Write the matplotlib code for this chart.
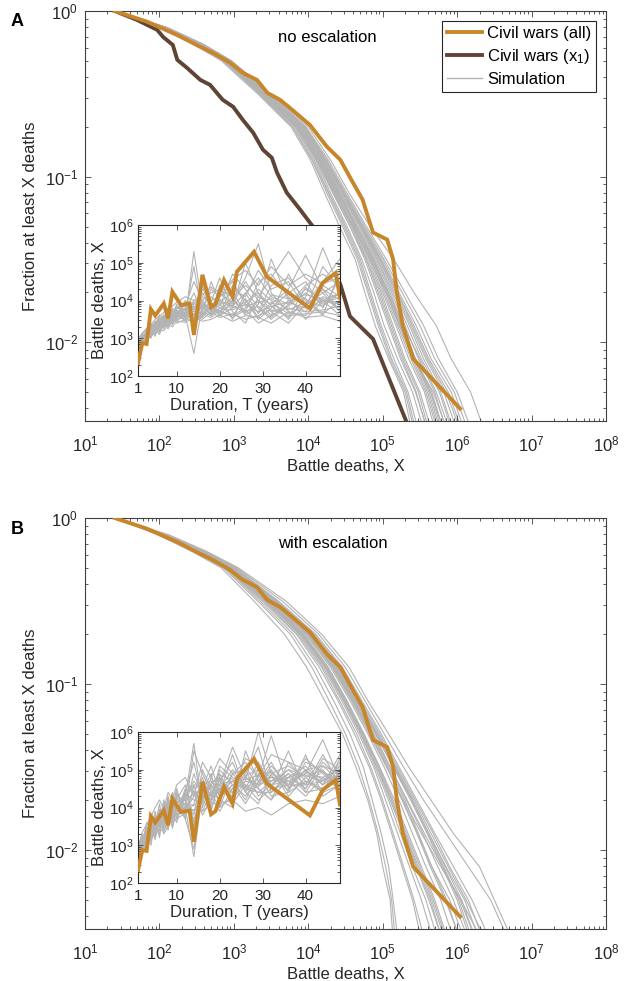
import numpy as np
import matplotlib
matplotlib.use("Agg")
import matplotlib.pyplot as plt
from matplotlib.ticker import LogLocator, NullFormatter, FixedLocator, LogFormatterSciNotation
from matplotlib.lines import Line2D

plt.rcParams['font.family'] = ['Liberation Sans', 'DejaVu Sans']
plt.rcParams['mathtext.fontset'] = 'custom'
plt.rcParams['mathtext.rm'] = 'Liberation Sans'
plt.rcParams['mathtext.it'] = 'Liberation Sans:italic'

# ---------------- data (log10 values) ----------------
# Civil wars (all): CCDF
data_all_logx = [1.40, 1.83, 2.24, 2.50, 2.72, 2.95, 3.12, 3.31, 3.45, 3.62, 3.75, 4.02,
                 4.25, 4.43, 4.60, 4.73, 4.80, 4.87, 5.06, 5.14, 5.19, 5.27, 5.41, 6.04]
data_all_logf = [0.0, -0.064, -0.145, -0.205, -0.253, -0.313, -0.373, -0.416, -0.494, -0.536,
                 -0.584, -0.687, -0.819, -0.898, -1.036, -1.139, -1.24, -1.337, -1.38, -1.50,
                 -1.70, -1.90, -2.10, -2.40]
# Civil wars (x1): CCDF
data_x1_logx = [1.40, 1.70, 1.97, 2.05, 2.18, 2.24, 2.37, 2.55, 2.68, 2.85, 2.99, 3.12,
                3.26, 3.39, 3.51, 3.58, 3.71, 3.89, 4.06, 4.43, 4.56, 4.87, 5.31]
data_x1_logf = [0.0, -0.054, -0.114, -0.157, -0.205, -0.295, -0.343, -0.416, -0.446, -0.536,
                -0.578, -0.657, -0.735, -0.837, -0.886, -0.976, -1.096, -1.199, -1.30, -1.65,
                -1.843, -1.98, -2.47]

# Simulation CCDFs: log10 X at these log10 fraction levels
ccdf_levels = [0, -0.1, -0.2, -0.3, -0.5, -0.7, -0.9, -1.1, -1.3, -1.5, -1.7, -1.9, -2.1, -2.3, -2.6]

sims_A = [
    [1.40, 1.99, 2.45, 2.83, 3.32, 3.77, 4.03, 4.22, 4.42, 4.63, 4.76, 4.90, 5.08, 5.28, 5.42],
    [1.40, 2.02, 2.50, 2.88, 3.38, 3.84, 4.10, 4.30, 4.52, 4.72, 4.88, 5.02, 5.20, 5.40, 5.60],
    [1.40, 2.05, 2.53, 2.90, 3.41, 3.88, 4.15, 4.38, 4.60, 4.82, 5.00, 5.18, 5.35, 5.56, 5.75],
    [1.40, 2.08, 2.55, 2.93, 3.44, 3.92, 4.20, 4.44, 4.68, 4.92, 5.12, 5.30, 5.48, 5.70, 5.90],
    [1.40, 2.10, 2.58, 2.96, 3.47, 3.97, 4.27, 4.52, 4.78, 5.05, 5.30, 5.55, 5.75, 6.00, 6.25],
    [1.40, 2.11, 2.59, 2.97, 3.49, 4.00, 4.30, 4.55, 4.83, 5.15, 5.42, 5.72, 5.92, 6.18, 6.42],
    [1.40, 2.03, 2.48, 2.86, 3.36, 3.82, 4.08, 4.28, 4.50, 4.70, 4.84, 4.98, 5.15, 5.34, 5.52],
    [1.40, 2.06, 2.52, 2.91, 3.40, 3.86, 4.13, 4.35, 4.58, 4.80, 4.98, 5.14, 5.30, 5.50, 5.70],
    [1.40, 2.04, 2.51, 2.89, 3.39, 3.85, 4.14, 4.40, 4.64, 4.86, 5.06, 5.25, 5.42, 5.62, 5.82],
    [1.40, 2.07, 2.54, 2.92, 3.43, 3.90, 4.18, 4.42, 4.66, 4.90, 5.10, 5.27, 5.44, 5.66, 5.86],
    [1.40, 2.09, 2.56, 2.94, 3.45, 3.94, 4.23, 4.47, 4.72, 4.97, 5.20, 5.40, 5.60, 5.85, 6.10],
    [1.40, 2.00, 2.47, 2.85, 3.35, 3.80, 4.06, 4.27, 4.48, 4.68, 4.82, 4.96, 5.12, 5.32, 5.48],
    [1.40, 2.05, 2.52, 2.90, 3.42, 3.89, 4.17, 4.41, 4.62, 4.84, 5.02, 5.20, 5.38, 5.58, 5.78],
    [1.40, 2.08, 2.55, 2.93, 3.46, 3.95, 4.24, 4.49, 4.74, 5.00, 5.22, 5.45, 5.65, 5.92, 6.15],
    [1.40, 2.06, 2.53, 2.92, 3.44, 3.91, 4.19, 4.43, 4.70, 4.95, 5.16, 5.36, 5.55, 5.78, 6.00],
    [1.40, 2.04, 2.50, 2.88, 3.40, 3.87, 4.16, 4.39, 4.63, 4.88, 5.08, 5.28, 5.50, 5.72, 5.95],
    [1.40, 2.07, 2.54, 2.91, 3.42, 3.88, 4.12, 4.36, 4.59, 4.78, 4.94, 5.10, 5.26, 5.45, 5.64],
    [1.40, 2.09, 2.57, 2.95, 3.46, 3.93, 4.22, 4.46, 4.70, 4.93, 5.14, 5.33, 5.52, 5.76, 5.98],
    [1.40, 2.03, 2.49, 2.87, 3.37, 3.83, 4.11, 4.33, 4.56, 4.76, 4.92, 5.08, 5.24, 5.44, 5.65],
    [1.40, 2.10, 2.58, 2.96, 3.48, 3.96, 4.25, 4.50, 4.76, 5.02, 5.26, 5.50, 5.70, 5.96, 6.20],
    [1.40, 2.01, 2.48, 2.86, 3.34, 3.79, 4.05, 4.25, 4.46, 4.66, 4.80, 4.94, 5.10, 5.30, 5.46],
    [1.40, 2.04, 2.51, 2.89, 3.38, 3.85, 4.12, 4.34, 4.56, 4.78, 4.96, 5.12, 5.28, 5.48, 5.66],
    [1.40, 2.06, 2.53, 2.91, 3.41, 3.88, 4.16, 4.40, 4.64, 4.87, 5.07, 5.26, 5.44, 5.64, 5.84],
    [1.40, 2.08, 2.56, 2.94, 3.45, 3.93, 4.21, 4.46, 4.71, 4.96, 5.18, 5.38, 5.58, 5.82, 6.05],
    [1.40, 2.05, 2.52, 2.90, 3.41, 3.87, 4.14, 4.37, 4.60, 4.83, 5.04, 5.22, 5.40, 5.60, 5.80],
    [1.40, 2.07, 2.55, 2.93, 3.44, 3.91, 4.18, 4.41, 4.65, 4.88, 5.07, 5.24, 5.42, 5.64, 5.88],
    [1.40, 2.03, 2.50, 2.88, 3.39, 3.86, 4.13, 4.37, 4.61, 4.85, 5.05, 5.23, 5.42, 5.68, 5.92],
    [1.40, 2.09, 2.57, 2.95, 3.47, 3.95, 4.24, 4.48, 4.73, 4.98, 5.20, 5.42, 5.62, 5.88, 6.12],
]

sims_B = [
    [1.40, 1.97, 2.43, 2.83, 3.27, 3.68, 3.98, 4.22, 4.46, 4.64, 4.80, 4.92, 5.00, 5.10, 5.15],
    [1.40, 2.00, 2.47, 2.88, 3.35, 3.80, 4.10, 4.34, 4.56, 4.74, 4.86, 4.98, 5.08, 5.14, 5.22],
    [1.40, 2.03, 2.52, 2.93, 3.45, 3.92, 4.25, 4.50, 4.72, 4.92, 5.10, 5.28, 5.45, 5.62, 5.85],
    [1.40, 2.06, 2.56, 2.97, 3.52, 4.00, 4.34, 4.60, 4.84, 5.06, 5.26, 5.46, 5.64, 5.84, 6.10],
    [1.40, 2.09, 2.60, 3.02, 3.60, 4.10, 4.46, 4.72, 4.98, 5.22, 5.46, 5.70, 5.95, 6.20, 6.50],
    [1.40, 2.12, 2.63, 3.06, 3.70, 4.18, 4.55, 4.80, 5.08, 5.35, 5.65, 5.95, 6.30, 6.50, 6.80],
    [1.40, 2.04, 2.53, 2.95, 3.48, 3.96, 4.30, 4.56, 4.80, 5.02, 5.22, 5.40, 5.58, 5.78, 6.00],
    [1.40, 2.07, 2.57, 2.99, 3.55, 4.04, 4.40, 4.66, 4.92, 5.16, 5.40, 5.62, 5.85, 6.10, 6.35],
    [1.40, 2.02, 2.50, 2.91, 3.42, 3.88, 4.20, 4.45, 4.68, 4.88, 5.04, 5.20, 5.36, 5.52, 5.72],
    [1.40, 2.05, 2.54, 2.96, 3.50, 3.98, 4.32, 4.58, 4.82, 5.05, 5.28, 5.52, 5.78, 6.05, 6.40],
    [1.40, 2.08, 2.58, 3.00, 3.57, 4.06, 4.42, 4.68, 4.94, 5.18, 5.42, 5.65, 5.88, 6.12, 6.45],
    [1.40, 2.01, 2.48, 2.89, 3.38, 3.84, 4.15, 4.40, 4.62, 4.82, 4.98, 5.12, 5.26, 5.40, 5.55],
    [1.40, 2.06, 2.55, 2.97, 3.53, 4.02, 4.37, 4.63, 4.88, 5.10, 5.32, 5.54, 5.74, 5.95, 6.20],
    [1.40, 2.10, 2.61, 3.04, 3.65, 4.14, 4.50, 4.76, 5.02, 5.28, 5.55, 5.85, 6.15, 6.45, 6.75],
    [1.40, 2.04, 2.52, 2.94, 3.47, 3.94, 4.27, 4.52, 4.75, 4.96, 5.16, 5.34, 5.52, 5.70, 5.92],
    [1.40, 2.07, 2.56, 2.98, 3.54, 4.03, 4.38, 4.64, 4.90, 5.14, 5.38, 5.60, 5.82, 6.02, 6.25],
    [1.40, 2.03, 2.51, 2.92, 3.44, 3.90, 4.22, 4.47, 4.70, 4.90, 5.08, 5.24, 5.40, 5.58, 5.78],
    [1.40, 2.09, 2.59, 3.01, 3.58, 4.08, 4.44, 4.70, 4.96, 5.20, 5.44, 5.68, 5.90, 6.15, 6.40],
    [1.40, 1.99, 2.46, 2.86, 3.32, 3.76, 4.05, 4.28, 4.50, 4.68, 4.82, 4.94, 5.04, 5.12, 5.18],
    [1.40, 2.05, 2.55, 2.96, 3.51, 3.99, 4.35, 4.61, 4.86, 5.08, 5.30, 5.48, 5.66, 5.90, 6.15],
    [1.40, 2.02, 2.50, 2.91, 3.43, 3.90, 4.23, 4.48, 4.71, 4.92, 5.12, 5.30, 5.48, 5.66, 5.88],
    [1.40, 2.05, 2.54, 2.96, 3.50, 3.98, 4.33, 4.59, 4.84, 5.06, 5.27, 5.47, 5.66, 5.86, 6.08],
    [1.40, 2.08, 2.58, 3.00, 3.56, 4.05, 4.41, 4.67, 4.93, 5.17, 5.40, 5.62, 5.84, 6.06, 6.30],
    [1.40, 2.04, 2.53, 2.94, 3.46, 3.93, 4.26, 4.51, 4.74, 4.95, 5.14, 5.32, 5.50, 5.68, 5.90],
    [1.40, 2.06, 2.55, 2.97, 3.52, 4.01, 4.36, 4.62, 4.87, 5.10, 5.33, 5.56, 5.80, 6.04, 6.30],
    [1.40, 2.01, 2.49, 2.90, 3.40, 3.86, 4.18, 4.42, 4.65, 4.84, 5.00, 5.14, 5.28, 5.42, 5.60],
    [1.40, 2.07, 2.57, 2.99, 3.55, 4.04, 4.39, 4.65, 4.91, 5.15, 5.38, 5.60, 5.80, 6.00, 6.22],
    [1.40, 2.03, 2.51, 2.93, 3.45, 3.91, 4.24, 4.49, 4.73, 4.94, 5.12, 5.30, 5.46, 5.64, 5.84],
]

# Inset: battle deaths vs duration (log10 X)
inset_data_T = [1, 2, 3, 4, 5, 7, 8, 9, 11, 13, 14, 16, 18, 19, 21, 23, 24, 28, 31, 41, 44, 47, 48]
inset_data_logx = [2.34, 2.87, 2.85, 3.77, 3.60, 3.92, 3.53, 4.23, 3.88, 3.92, 3.09, 4.68, 3.82,
                   3.90, 4.54, 4.10, 4.76, 5.29, 4.63, 3.79, 4.47, 4.73, 4.08]

inset_sim_T = [1, 2, 3, 4, 5, 6, 7, 8, 9, 10, 12, 14, 16, 18, 20, 23, 26, 29, 32, 36, 40, 44, 48]

inset_sims_A = [
    [2.80, 2.95, 3.10, 3.05, 3.25, 3.20, 3.40, 3.30, 3.45, 3.50, 3.55, 3.40, 3.70, 3.60, 3.80, 3.75, 3.90, 3.70, 3.85, 3.95, 3.80, 4.00, 3.90],
    [2.85, 3.00, 2.95, 3.20, 3.15, 3.35, 3.30, 3.50, 3.40, 3.60, 3.50, 5.30, 3.80, 3.65, 4.00, 3.85, 4.20, 4.60, 4.10, 3.90, 4.30, 4.00, 4.20],
    [2.75, 2.90, 3.05, 3.15, 3.10, 3.30, 3.45, 3.35, 3.60, 3.45, 3.70, 3.60, 3.55, 3.90, 3.70, 4.10, 3.60, 3.90, 5.10, 4.00, 3.70, 4.40, 4.10],
    [2.90, 3.05, 3.15, 3.00, 3.30, 3.40, 3.25, 3.55, 3.50, 3.70, 3.60, 2.60, 3.90, 3.80, 3.65, 4.40, 4.00, 3.50, 3.80, 4.20, 4.50, 3.80, 4.60],
    [2.80, 3.10, 3.00, 3.30, 3.35, 3.25, 3.50, 3.45, 3.65, 3.55, 3.80, 3.70, 4.00, 3.70, 4.20, 3.90, 4.50, 4.00, 3.60, 4.70, 3.90, 4.20, 3.70],
    [2.95, 2.90, 3.20, 3.25, 3.05, 3.45, 3.35, 3.60, 3.35, 3.75, 3.65, 4.90, 3.60, 4.10, 3.90, 3.60, 3.80, 4.30, 4.00, 3.50, 4.10, 5.40, 4.30],
    [2.85, 3.00, 3.10, 3.35, 3.20, 3.30, 3.55, 3.40, 3.70, 3.65, 3.45, 3.90, 4.20, 3.85, 3.60, 4.00, 4.60, 5.50, 4.20, 3.70, 3.60, 4.10, 3.90],
    [2.78, 2.98, 3.18, 3.10, 3.40, 3.50, 3.40, 3.70, 3.55, 3.80, 3.90, 3.30, 3.75, 4.30, 4.10, 4.50, 3.90, 3.70, 4.40, 4.60, 4.00, 3.60, 4.80],
    [2.90, 3.08, 3.02, 3.28, 3.30, 3.15, 3.60, 3.50, 3.40, 3.85, 3.60, 4.00, 3.95, 3.60, 4.40, 3.70, 3.40, 4.10, 3.90, 4.30, 5.20, 4.30, 4.00],
    [2.82, 2.92, 3.12, 3.22, 3.45, 3.38, 3.28, 3.62, 3.75, 3.50, 3.95, 3.50, 4.40, 3.75, 3.85, 4.70, 4.30, 3.80, 3.50, 3.90, 4.40, 4.70, 4.40],
    [2.88, 3.04, 3.08, 3.40, 3.28, 3.55, 3.48, 3.32, 3.80, 3.70, 3.75, 4.20, 3.70, 4.50, 3.95, 4.20, 3.70, 4.50, 4.70, 4.10, 3.50, 4.00, 3.60],
    [2.92, 3.12, 3.22, 3.12, 3.38, 3.62, 3.52, 3.78, 3.62, 3.90, 3.65, 3.80, 4.10, 3.95, 4.60, 3.80, 5.00, 4.20, 3.70, 3.40, 3.90, 4.50, 5.10],
    [2.76, 2.88, 2.98, 3.18, 3.22, 3.10, 3.38, 3.25, 3.52, 3.40, 3.50, 3.60, 3.50, 3.70, 3.55, 3.65, 3.50, 3.60, 3.75, 3.60, 3.65, 3.70, 3.60],
    [2.84, 3.02, 3.14, 3.26, 3.18, 3.48, 3.62, 3.46, 3.58, 3.78, 3.85, 4.50, 4.00, 4.20, 4.30, 4.10, 4.40, 4.10, 4.60, 5.30, 4.60, 4.20, 4.50],
    [2.80, 2.96, 3.06, 3.14, 3.36, 3.32, 3.44, 3.58, 3.48, 3.64, 3.70, 3.45, 3.65, 3.55, 3.75, 3.55, 3.75, 3.40, 3.60, 3.85, 4.20, 3.90, 4.10],
    [2.86, 3.06, 3.16, 3.30, 3.42, 3.46, 3.56, 3.52, 3.72, 3.60, 4.00, 3.75, 4.30, 4.00, 4.10, 4.30, 4.10, 4.80, 4.30, 4.50, 3.80, 4.90, 4.30],
    [2.70, 2.85, 3.00, 3.08, 3.12, 3.22, 3.20, 3.36, 3.30, 3.46, 3.42, 3.55, 3.45, 3.50, 3.62, 3.45, 3.60, 3.55, 3.40, 3.70, 3.55, 3.60, 3.45],
    [2.98, 3.14, 3.26, 3.36, 3.50, 3.58, 3.68, 3.80, 3.85, 3.95, 4.10, 4.00, 4.15, 4.35, 4.20, 4.55, 4.80, 4.40, 4.90, 4.40, 4.70, 4.45, 4.60],
    [2.72, 2.94, 3.04, 3.02, 3.24, 3.28, 3.32, 3.44, 3.38, 3.56, 3.58, 3.62, 3.85, 3.65, 3.80, 3.95, 3.85, 3.95, 4.05, 3.75, 3.95, 3.85, 4.20],
    [2.94, 2.86, 3.24, 3.20, 3.32, 3.52, 3.44, 3.66, 3.66, 3.68, 3.80, 3.85, 3.55, 3.90, 4.05, 3.50, 4.20, 3.65, 4.15, 4.05, 4.15, 4.05, 3.80],
    [2.82, 3.00, 3.12, 3.24, 3.30, 3.36, 3.42, 3.48, 3.56, 3.62, 3.68, 3.72, 3.66, 3.82, 3.72, 3.88, 3.66, 4.00, 3.72, 3.80, 3.70, 3.75, 3.85],
    [2.88, 2.94, 3.18, 3.12, 3.44, 3.30, 3.52, 3.64, 3.46, 3.70, 3.56, 3.95, 3.62, 3.70, 3.70, 3.60, 4.05, 3.55, 3.95, 3.65, 3.85, 4.30, 3.70],
    [2.74, 3.02, 3.04, 3.32, 3.26, 3.50, 3.36, 3.42, 3.64, 3.58, 3.62, 3.50, 3.90, 3.75, 3.90, 4.00, 3.70, 3.85, 3.55, 4.00, 4.05, 3.65, 4.00],
    [2.90, 3.10, 3.02, 3.22, 3.40, 3.42, 3.58, 3.40, 3.68, 3.82, 3.74, 3.65, 3.85, 3.90, 3.60, 3.80, 3.95, 4.20, 3.85, 3.55, 4.35, 3.95, 4.20],
]

inset_sims_B = [
    [2.90, 3.20, 3.30, 3.50, 3.40, 3.70, 3.60, 3.90, 3.80, 4.00, 4.10, 3.90, 4.30, 4.20, 4.50, 4.40, 4.70, 4.60, 4.80, 4.70, 4.90, 4.80, 5.00],
    [2.70, 3.00, 3.40, 3.20, 3.60, 3.50, 3.80, 3.40, 4.10, 3.70, 4.30, 5.70, 4.00, 4.60, 4.30, 4.90, 4.50, 5.20, 4.60, 4.90, 4.40, 5.10, 4.70],
    [3.00, 2.80, 3.10, 3.60, 3.30, 3.90, 3.50, 4.20, 3.60, 4.40, 3.80, 4.10, 4.80, 4.10, 5.00, 4.60, 4.30, 4.80, 5.90, 4.50, 5.00, 4.60, 4.90],
    [2.80, 3.10, 2.90, 3.30, 3.70, 3.20, 4.00, 3.70, 4.30, 3.90, 4.00, 2.70, 4.40, 4.90, 4.00, 4.30, 5.10, 4.50, 4.20, 5.20, 4.70, 4.40, 5.30],
    [3.10, 2.95, 3.50, 3.10, 3.50, 4.10, 3.40, 3.60, 4.00, 4.50, 3.70, 4.60, 3.90, 4.40, 4.70, 5.20, 4.40, 4.10, 4.90, 4.60, 5.30, 4.90, 4.50],
    [2.85, 3.30, 3.20, 3.80, 3.30, 3.60, 4.20, 3.80, 3.50, 4.20, 4.60, 3.60, 4.70, 4.30, 3.90, 4.50, 4.90, 5.60, 4.40, 4.80, 4.50, 5.20, 4.80],
    [2.75, 3.05, 3.60, 3.40, 3.90, 3.40, 3.70, 4.30, 3.90, 3.60, 4.40, 5.20, 4.20, 3.90, 4.80, 4.10, 4.60, 4.40, 4.70, 5.00, 4.60, 4.70, 5.10],
    [2.95, 2.85, 3.00, 3.70, 3.20, 3.80, 3.30, 3.50, 4.40, 4.10, 3.90, 4.30, 4.50, 5.10, 4.40, 4.70, 4.20, 4.90, 4.30, 4.40, 5.40, 4.30, 4.60],
    [3.05, 3.15, 3.35, 3.00, 3.60, 3.30, 3.90, 3.60, 3.70, 4.30, 4.20, 3.80, 5.00, 4.50, 4.20, 4.00, 5.50, 4.70, 5.00, 4.30, 4.80, 5.00, 4.40],
    [2.80, 3.00, 3.25, 3.45, 3.15, 3.75, 3.55, 4.00, 3.75, 3.85, 4.50, 4.40, 3.80, 4.20, 5.10, 4.80, 4.60, 4.20, 4.50, 5.50, 4.40, 4.50, 4.90],
    [2.90, 3.10, 3.45, 3.30, 3.80, 3.55, 3.50, 3.75, 4.20, 4.05, 3.70, 2.90, 4.60, 4.70, 4.40, 5.40, 4.40, 5.00, 4.80, 4.60, 4.90, 5.80, 4.70],
    [2.65, 2.95, 3.15, 3.55, 3.45, 3.40, 4.05, 3.45, 3.85, 4.15, 4.25, 4.70, 4.40, 4.00, 4.60, 4.30, 4.80, 4.50, 4.20, 4.80, 5.10, 4.60, 5.20],
    [3.00, 3.25, 3.05, 3.25, 3.55, 3.95, 3.65, 4.10, 3.45, 3.95, 4.35, 4.20, 4.10, 4.80, 4.30, 4.60, 4.10, 4.70, 5.20, 4.40, 4.70, 4.50, 4.80],
    [2.85, 2.90, 3.35, 3.65, 3.35, 3.65, 3.85, 3.55, 4.15, 3.80, 3.95, 5.50, 4.90, 4.40, 4.00, 4.90, 5.00, 4.30, 4.60, 4.70, 4.30, 4.80, 4.50],
    [2.75, 3.20, 3.00, 3.40, 3.65, 3.50, 3.45, 3.85, 3.95, 4.35, 4.05, 3.70, 4.25, 4.60, 4.90, 4.20, 4.70, 6.00, 4.90, 5.10, 4.80, 4.40, 4.60],
    [3.10, 3.00, 3.30, 3.15, 3.45, 3.85, 3.75, 3.95, 4.05, 3.75, 4.45, 4.50, 4.60, 4.20, 4.50, 5.00, 4.50, 4.40, 4.40, 4.90, 4.50, 5.30, 5.00],
    [2.90, 3.35, 3.55, 3.75, 4.00, 4.20, 3.95, 4.40, 4.20, 4.60, 4.80, 4.30, 5.20, 4.80, 5.30, 4.90, 5.20, 4.80, 5.40, 5.20, 5.00, 5.10, 4.90],
    [2.70, 2.88, 3.10, 3.28, 3.25, 3.45, 3.35, 3.70, 3.60, 3.70, 3.85, 3.95, 3.90, 4.10, 4.10, 4.20, 3.90, 4.00, 3.80, 4.10, 4.20, 4.10, 4.30],
    [2.95, 3.10, 3.40, 3.60, 3.50, 3.70, 4.10, 3.90, 4.30, 4.00, 4.20, 3.50, 4.60, 4.50, 4.60, 5.60, 4.80, 4.60, 5.10, 4.60, 5.00, 4.60, 5.40],
    [2.80, 3.05, 3.20, 3.35, 3.75, 3.60, 3.60, 4.20, 4.00, 4.25, 4.00, 4.90, 4.30, 4.40, 4.40, 4.50, 5.30, 5.10, 4.50, 4.60, 4.60, 5.40, 4.60],
    [2.85, 3.15, 3.38, 3.52, 3.62, 3.78, 3.82, 3.98, 4.02, 4.12, 4.22, 4.35, 4.45, 4.55, 4.62, 4.70, 4.75, 4.85, 4.70, 4.80, 4.95, 4.75, 4.85],
    [2.78, 2.98, 3.22, 3.40, 3.42, 3.55, 3.72, 3.68, 3.88, 3.92, 4.12, 4.05, 4.25, 4.35, 4.25, 4.60, 4.55, 4.65, 4.95, 4.55, 4.65, 4.95, 4.70],
    [3.02, 3.08, 3.28, 3.48, 3.58, 3.52, 3.90, 3.85, 3.95, 4.18, 3.95, 4.45, 4.15, 4.65, 4.75, 4.40, 4.85, 5.00, 4.60, 5.00, 4.85, 4.70, 5.10],
    [2.88, 3.22, 3.18, 3.62, 3.48, 3.88, 3.58, 4.05, 4.10, 3.98, 4.30, 4.60, 4.55, 4.30, 4.85, 4.75, 4.45, 4.55, 4.85, 4.45, 5.20, 4.95, 4.55],
]

main_xticks = [1e1, 1e2, 1e3, 1e4, 1e5, 1e6, 1e7, 1e8]
main_yticks = [1e-2, 1e-1, 1e0]
inset_xticks = [1, 10, 20, 30, 40]
inset_yticks = [1e2, 1e3, 1e4, 1e5, 1e6]

legend_labels = ["Civil wars (all)", "Civil wars (x$_1$)", "Simulation"]
panel_titles = ["no escalation", "with escalation"]
panel_letters = ["A", "B"]

# ---------------- styling ----------------
ORANGE = '#C8862B'
BROWN = '#5F4435'
GRAY = '#B3B3B3'
AXC = '#404040'
TXT = '#262626'

W, H = 626, 981
fig = plt.figure(figsize=(W / 100, H / 100), dpi=100)


def frac(x0, y0, x1, y1):
    return [x0 / W, 1 - y1 / H, (x1 - x0) / W, (y1 - y0) / H]


def style_axes(ax, fs):
    for s in ax.spines.values():
        s.set_color(AXC)
        s.set_linewidth(0.8)
    ax.tick_params(which='both', direction='in', top=True, right=True,
                   colors=AXC, labelcolor=TXT, labelsize=fs, width=0.6)
    ax.tick_params(which='major', length=4.5)
    ax.tick_params(which='minor', length=2.5)


main_boxes = [frac(85, 11, 606, 421), frac(85, 518, 606, 929)]
inset_boxes = [frac(138, 225, 340, 376), frac(138, 732, 340, 883)]
sims_all = [sims_A, sims_B]
inset_sims_all = [inset_sims_A, inset_sims_B]
letter_y = [22, 529]

lev = 10 ** np.array(ccdf_levels)
for p in range(2):
    ax = fig.add_axes(main_boxes[p])
    for s in sims_all[p]:
        ax.plot(10 ** np.array(s), lev, color=GRAY, lw=0.8, zorder=1)
    if p == 0:
        ax.plot(10 ** np.array(data_x1_logx), 10 ** np.array(data_x1_logf),
                color=BROWN, lw=2.8, zorder=3, solid_joinstyle='miter')
    ax.plot(10 ** np.array(data_all_logx), 10 ** np.array(data_all_logf),
            color=ORANGE, lw=2.8, zorder=4, solid_joinstyle='miter')
    ax.set_xscale('log')
    ax.set_yscale('log')
    ax.set_xlim(1e1, 1e8)
    ax.set_ylim(10 ** -2.475, 1)
    ax.xaxis.set_major_locator(FixedLocator(main_xticks))
    ax.yaxis.set_major_locator(FixedLocator(main_yticks))
    ax.xaxis.set_major_formatter(LogFormatterSciNotation())
    ax.yaxis.set_major_formatter(LogFormatterSciNotation())
    ax.xaxis.set_minor_locator(LogLocator(base=10, subs=np.arange(2, 10), numticks=20))
    ax.yaxis.set_minor_locator(LogLocator(base=10, subs=np.arange(2, 10), numticks=20))
    ax.xaxis.set_minor_formatter(NullFormatter())
    ax.yaxis.set_minor_formatter(NullFormatter())
    style_axes(ax, 12)
    ax.tick_params(axis='x', which='major', pad=10)
    ax.tick_params(axis='y', which='major', pad=5)
    ax.set_xlabel("Battle deaths, X", fontsize=12, color=TXT, labelpad=3)
    ax.set_ylabel("Fraction at least X deaths", fontsize=12, color=TXT, labelpad=5)
    ax.text(0.37, 0.935 if p == 0 else 0.938, panel_titles[p], transform=ax.transAxes,
            fontsize=12, color='black', ha='left', va='center')
    fig.text(17 / W, 1 - letter_y[p] / H, panel_letters[p], fontsize=13, fontweight='bold',
             ha='center', va='center')
    if p == 0:
        handles = [Line2D([], [], color=ORANGE, lw=2.8),
                   Line2D([], [], color=BROWN, lw=2.8),
                   Line2D([], [], color=GRAY, lw=1.0)]
        leg = ax.legend(handles, legend_labels, loc='upper right',
                        bbox_to_anchor=(0.981, 0.976), borderaxespad=0,
                        fontsize=12, fancybox=False, framealpha=1,
                        edgecolor='#262626', handlelength=2.1, handletextpad=0.3,
                        labelspacing=0.35, borderpad=0.3)
        leg.get_frame().set_linewidth(0.8)

    # inset
    ia = fig.add_axes(inset_boxes[p])
    ia.set_facecolor('white')
    for s in inset_sims_all[p]:
        ia.plot(inset_sim_T, 10 ** np.array(s), color=GRAY, lw=0.8, zorder=1)
    ia.plot(inset_data_T, 10 ** np.array(inset_data_logx), color=ORANGE, lw=2.8,
            zorder=3, solid_joinstyle='miter')
    ia.set_yscale('log')
    ia.set_xlim(1, 48)
    ia.set_ylim(1e2, 1e6)
    ia.xaxis.set_major_locator(FixedLocator(inset_xticks))
    ia.yaxis.set_major_locator(FixedLocator(inset_yticks))
    ia.yaxis.set_major_formatter(LogFormatterSciNotation())
    ia.yaxis.set_minor_locator(LogLocator(base=10, subs=np.arange(2, 10), numticks=10))
    ia.yaxis.set_minor_formatter(NullFormatter())
    style_axes(ia, 11)
    for s in ia.spines.values():
        s.set_color('#262626')
    ia.tick_params(which='major', length=3.5)
    ia.tick_params(which='minor', length=2)
    ia.tick_params(axis='x', which='major', pad=4)
    ia.set_xlabel("Duration, T (years)", fontsize=12, color=TXT, labelpad=2)
    ia.set_ylabel("Battle deaths, X", fontsize=12, color=TXT, labelpad=1)

fig.savefig("out.png", dpi=100)
